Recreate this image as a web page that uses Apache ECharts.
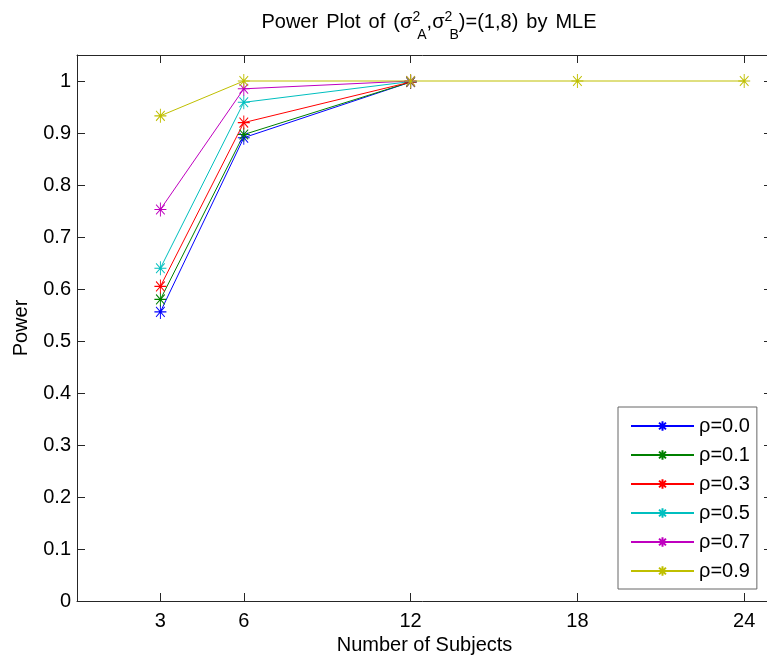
<!DOCTYPE html>
<html>
<head>
<meta charset="utf-8">
<title>Power Plot by MLE</title>
<script src="https://cdn.jsdelivr.net/npm/echarts@6/dist/echarts.min.js"></script>
<style>
    html, body { margin: 0; padding: 0; background: #fff; }
    #chart { width: 767px; height: 661px; }
</style>
</head>
<body>
<div id="chart"></div>
<script>
/* data */
const subjects = [3, 6, 12, 18, 24];
const rho00 = [0.556, 0.891, 0.998];
const rho01 = [0.580, 0.897, 0.998];
const rho03 = [0.605, 0.920, 0.998];
const rho05 = [0.640, 0.959, 0.999];
const rho07 = [0.753, 0.985, 1];
const rho09 = [0.933, 1, 1, 1, 1];
const seriesNames = ['ρ=0.0', 'ρ=0.1', 'ρ=0.3', 'ρ=0.5', 'ρ=0.7', 'ρ=0.9'];
const seriesValues = [rho00, rho01, rho03, rho05, rho07, rho09];
const xTicks = [3, 6, 12, 18, 24];
const yTicks = [0, 0.1, 0.2, 0.3, 0.4, 0.5, 0.6, 0.7, 0.8, 0.9, 1];

/* matlab default line colours */
const colors = ['#0000ff', '#008000', '#ff0000', '#00bfbf', '#bf00bf', '#bfbf00'];
const FONT = '"Liberation Sans", Arial, sans-serif';
const AXIS_COLOR = '#262626';
// matlab style asterisk marker
const STAR = 'path://M0,-10L0,10M-9,0L9,0M-6.5,-7L6.5,7M-6.5,7L6.5,-7';

const chart = echarts.init(document.getElementById('chart'), null, { renderer: 'canvas' });

function boxAxis(extra) {
    return Object.assign({
        type: 'value',
        axisLine: { show: true, onZero: false, lineStyle: { color: AXIS_COLOR, width: 1 } },
        splitLine: { show: false },
    }, extra);
}
function ticks(values) {
    return { show: true, inside: true, length: 8, customValues: values, lineStyle: { color: AXIS_COLOR } };
}

const series = seriesValues.map((values, i) => ({
    name: seriesNames[i],
    type: 'line',
    data: values.map((v, j) => [subjects[j], v]),
    symbol: STAR,
    symbolSize: [12, 14],
    showSymbol: true,
    lineStyle: { color: colors[i], width: 1 },
    itemStyle: { color: colors[i], borderColor: colors[i], borderWidth: 1 },
    emphasis: { disabled: true },
}));

chart.setOption({
    backgroundColor: '#fff',
    textStyle: { fontFamily: FONT },
    animation: false,
    // right edge of the box sits just past the picture, as in the reference
    grid: { left: 77, right: -5, top: 55, bottom: 60, outerBoundsMode: 'none' },
    graphic: [{
        type: 'text',
        x: 429,
        y: 22,
        style: {
            text: '{m|Power}{sp| }{m|Plot}{sp| }{m|of}{sp| }{m|(σ}{sup|2}{sub|A}{m|,σ}{sup|2}{sub|B}{m|)=(1,8)}{sp| }{m|by}{sp| }{m|MLE}',
            align: 'center',
            verticalAlign: 'middle',
            fill: '#000',
            rich: {
                m: { fontSize: 20, fontFamily: FONT, lineHeight: 40, verticalAlign: 'middle' },
                sp: { fontSize: 20, fontFamily: FONT, width: 8 },
                sup: { fontSize: 14, fontFamily: FONT, width: 0, verticalAlign: 'top', padding: [8, 0, 0, 4] },
                sub: { fontSize: 14, fontFamily: FONT, verticalAlign: 'bottom', padding: [0, 0, 0, 1] },
            },
        },
    }],
    legend: {
        orient: 'vertical',
        left: 618,
        top: 407,
        padding: [9, 7, 8, 12],
        itemWidth: 63,
        itemHeight: 12,
        itemGap: 9,
        backgroundColor: '#fff',
        borderColor: '#666',
        borderWidth: 1,
        borderRadius: 0,
        selectedMode: false,
        textStyle: { fontSize: 20, lineHeight: 20, color: '#000', fontFamily: FONT },
        data: seriesNames,
    },
    xAxis: [
        boxAxis({
            min: 0,
            max: 25,
            position: 'bottom',
            name: 'Number of Subjects',
            nameLocation: 'middle',
            nameGap: 24,
            nameTextStyle: { fontSize: 20, color: '#000', fontFamily: FONT },
            axisTick: ticks(xTicks),
            axisLabel: { customValues: xTicks, fontSize: 20, color: '#000', margin: 10, fontFamily: FONT },
        }),
        boxAxis({
            min: 0,
            max: 25,
            position: 'top',
            axisTick: ticks(xTicks),
            axisLabel: { show: false },
        }),
    ],
    yAxis: [
        boxAxis({
            min: 0,
            max: 1.05,
            position: 'left',
            name: 'Power',
            nameLocation: 'middle',
            nameGap: 46,
            nameTextStyle: { fontSize: 20, color: '#000', fontFamily: FONT },
            axisTick: ticks(yTicks),
            axisLabel: { customValues: yTicks, fontSize: 20, color: '#000', margin: 6, fontFamily: FONT },
        }),
        boxAxis({
            min: 0,
            max: 1.05,
            position: 'right',
            axisTick: ticks(yTicks),
            axisLabel: { show: false },
        }),
    ],
    series: series,
});
</script>
</body>
</html>
